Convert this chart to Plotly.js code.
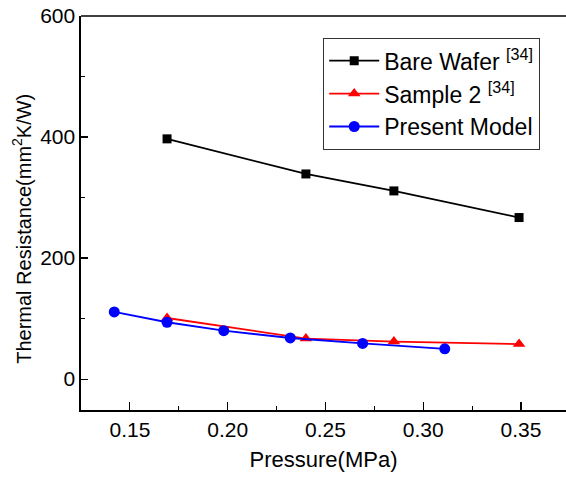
<!DOCTYPE html>
<html>
<head>
<meta charset="utf-8">
<script src="https://cdn.plot.ly/plotly-3.0.1.min.js"></script>
<style>html,body{margin:0;padding:0;background:#fff;}#chart{width:566px;height:480px;}</style>
</head>
<body>
<div id="chart"></div>
<script>
// Data
var bareX = [0.169, 0.240, 0.285, 0.349];
var bareY = [397, 339, 311, 267];

var sampleX = [0.169, 0.240, 0.285, 0.349];
var sampleY = [101, 67, 62, 58];

var modelX = [0.142, 0.169, 0.198, 0.232, 0.269, 0.311];
var modelY = [111, 94, 80, 68, 59, 50];

var names = ['Bare Wafer <sup>[34]</sup>', 'Sample 2 <sup>[34]</sup>', 'Present Model'];

var xTicks = [0.15, 0.20, 0.25, 0.30, 0.35];
var xTickText = ['0.15', '0.20', '0.25', '0.30', '0.35'];
var yTicks = [0, 200, 400, 600];

var xTitle = 'Pressure(MPa)';
var yTitle = 'Thermal Resistance(mm<sup>2</sup>K/W)';

var font = 'Arial, "Liberation Sans", sans-serif';

var traces = [
  {x: bareX, y: bareY, name: names[0], mode: 'lines+markers', type: 'scatter',
   line: {color: '#000000', width: 1.8}, marker: {symbol: 'square', size: 9, color: '#000000'}},
  {x: sampleX, y: sampleY, name: names[1], mode: 'lines+markers', type: 'scatter',
   line: {color: '#ff0000', width: 1.8}, marker: {symbol: 'triangle-up', size: 11, color: '#ff0000'}},
  {x: modelX, y: modelY, name: names[2], mode: 'lines+markers', type: 'scatter',
   line: {color: '#0000ff', width: 1.8}, marker: {symbol: 'circle', size: 11, color: '#0000ff'}}
];

var layout = {
  width: 566, height: 480,
  margin: {l: 81, r: 0, t: 16, b: 70},
  paper_bgcolor: '#ffffff', plot_bgcolor: '#ffffff',
  font: {family: font, size: 21, color: '#000000'},
  showlegend: true,
  legend: {x: 0.499, y: 0.944, xanchor: 'left', yanchor: 'top',
    bgcolor: '#ffffff', bordercolor: '#333333', borderwidth: 1.2, itemwidth: 50,
    font: {family: font, size: 23, color: '#000000'}, tracegroupgap: 0},
  xaxis: {
    range: [0.125, 0.373], tickvals: xTicks, ticktext: xTickText,
    ticks: 'inside', ticklen: 8, tickwidth: 1.2, tickcolor: '#000',
    minor: {ticks: 'inside', ticklen: 4, tickwidth: 1.2, dtick: 0.025, tick0: 0.125, tickcolor: '#000'},
    showline: true, linecolor: '#000', linewidth: 1.6, showgrid: false, zeroline: false,
    tickfont: {family: font, size: 21},
    title: {text: xTitle, font: {family: font, size: 22}, standoff: 12}
  },
  yaxis: {
    range: [-51, 600], tickvals: yTicks,
    ticks: 'inside', ticklen: 7, tickwidth: 1.2, tickcolor: '#000',
    minor: {ticks: 'inside', ticklen: 4, tickwidth: 1.2, dtick: 100, tick0: 0, tickcolor: '#000'},
    showline: true, linecolor: '#000', linewidth: 1.6, showgrid: false, zeroline: false,
    tickfont: {family: font, size: 21}
  },
  annotations: [
    {text: yTitle, xref: 'paper', yref: 'paper', x: -0.1216, y: 0.46, xanchor: 'center', yanchor: 'middle',
     textangle: -90, showarrow: false, font: {family: font, size: 20, color: '#000'}}
  ],
  shapes: [
    {type: 'line', xref: 'paper', yref: 'paper', x0: 0, x1: 1, y0: 1, y1: 1,
     line: {color: '#000', width: 1.6}}
  ]
};

Plotly.newPlot('chart', traces, layout, {displayModeBar: false, staticPlot: true});
</script>
</body>
</html>
